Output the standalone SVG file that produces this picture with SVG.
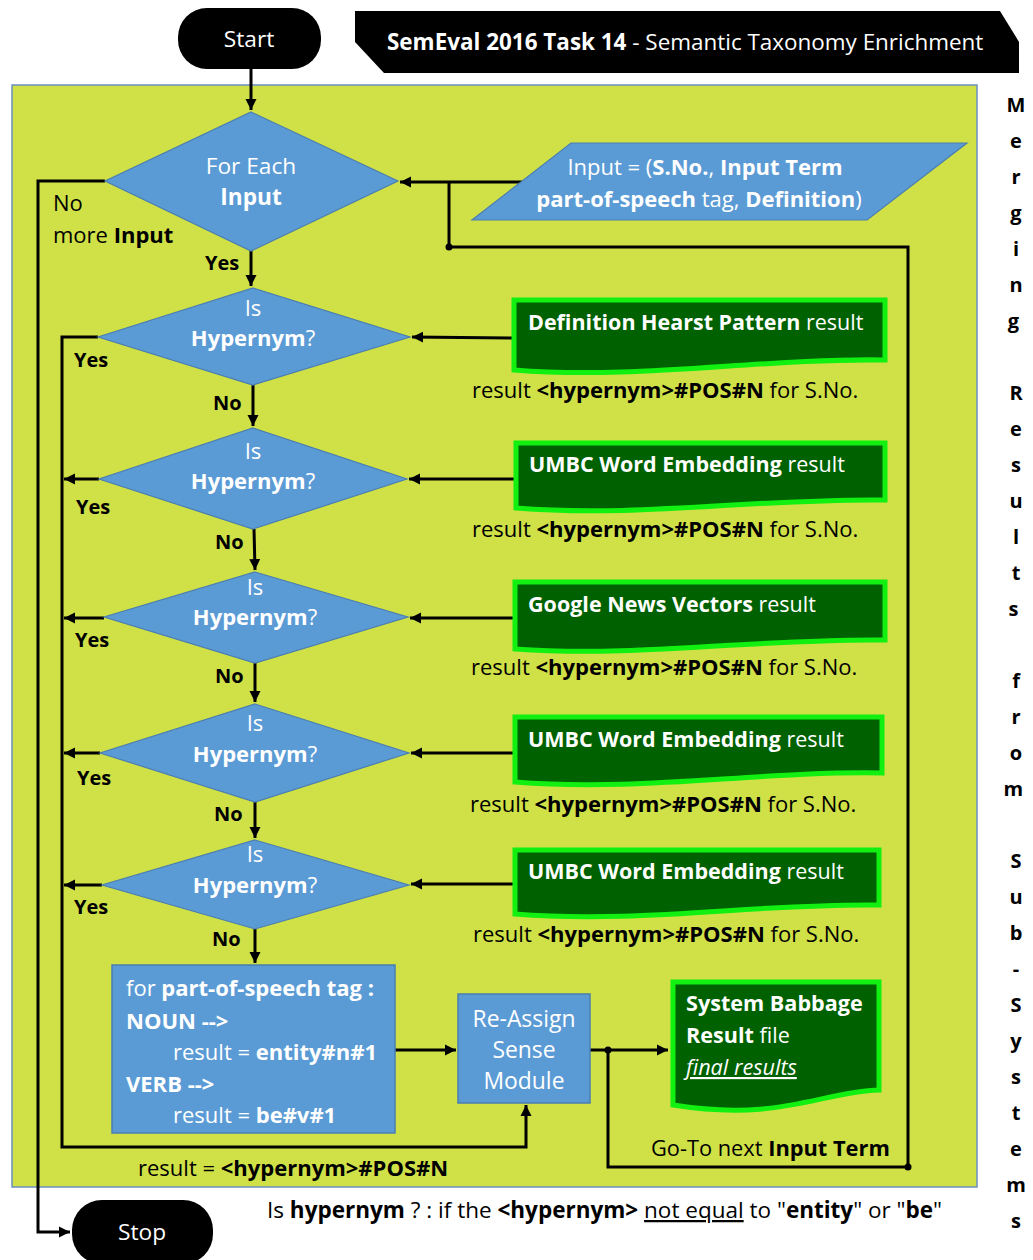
<svg xmlns="http://www.w3.org/2000/svg" width="1033" height="1260" viewBox="0 0 1033 1260" font-size="22">
  <defs>
    <marker id="arrow" markerUnits="userSpaceOnUse" markerWidth="12" markerHeight="12" refX="11" refY="6" orient="auto">
      <path d="M0,0.5 L11,6 L0,11.5 Z" fill="#000"/>
    </marker>
    <style>
      text { font-family: "Open Sans", Lato, "Liberation Sans", sans-serif; }
      .b { font-weight: 700; }
      .w { fill: #fff; }
      .k { fill: #000; }
      .t20 { font-size: 20px; }
      .t23 { font-size: 22.7px; }
      .dt { font-size: 21.5px; }
      .mid { text-anchor: middle; }
      .diamond { fill: #5B9BD5; stroke: #4A7EB0; stroke-width: 1.2; }
      .box { fill: #5B9BD5; stroke: #4A7EB0; stroke-width: 1.5; }
      .doc { fill: #006100; stroke: #11F011; stroke-width: 5; stroke-linejoin: miter; }
      .term { fill: #000; }
      .conn { fill: none; stroke: #000; stroke-width: 3; }
      .arr { marker-end: url(#arrow); }
    </style>
  </defs>

  <!-- title banner -->
  <g id="title">
    <path d="M355,11 H1000 L1019,42 V73 H384 L355,42 Z" fill="#000"/>
    <text x="387" y="50" class="w" font-size="22.45"><tspan class="b">SemEval 2016 Task 14</tspan> - Semantic Taxonomy Enrichment</text>
  </g>

  <!-- process panel -->
  <rect id="panel" x="12" y="85" width="965" height="1102" fill="#CFE147" stroke="#6B8FBF" stroke-width="1.5"/>

  <!-- side caption -->
  <text id="side-caption" class="b k t20 mid">
    <tspan x="1016" y="112">M</tspan><tspan x="1016" y="148">e</tspan><tspan x="1016" y="184">r</tspan><tspan x="1016" y="220">g</tspan><tspan x="1016" y="256">i</tspan><tspan x="1016" y="292">n</tspan><tspan x="1016" y="328">g</tspan>
    <tspan x="1016" y="400">R</tspan><tspan x="1016" y="436">e</tspan><tspan x="1016" y="472">s</tspan><tspan x="1016" y="508">u</tspan><tspan x="1016" y="544">l</tspan><tspan x="1016" y="580">t</tspan><tspan x="1016" y="616">s</tspan>
    <tspan x="1016" y="688">f</tspan><tspan x="1016" y="724">r</tspan><tspan x="1016" y="760">o</tspan><tspan x="1016" y="796">m</tspan>
    <tspan x="1016" y="868">S</tspan><tspan x="1016" y="904">u</tspan><tspan x="1016" y="940">b</tspan><tspan x="1016" y="976">-</tspan><tspan x="1016" y="1012">S</tspan><tspan x="1016" y="1048">y</tspan><tspan x="1016" y="1084">s</tspan><tspan x="1016" y="1120">t</tspan><tspan x="1016" y="1156">e</tspan><tspan x="1016" y="1192">m</tspan><tspan x="1016" y="1228">s</tspan>
  </text>

  <!-- connectors -->
  <g id="connectors">
    <path class="conn arr" d="M251,69 V110"/>
    <path class="conn arr" d="M522,182 H400"/>
    <path class="conn" d="M908,1167 V247 H449 V182"/>
    <path class="conn arr" d="M251,251 V286"/>
    <path class="conn arr" d="M105,181 H38 V1232 H70"/>
    <path class="conn arr" d="M98,337 H62 V1147 H526 V1105"/>
    <path class="conn arr" d="M99,479 H64"/>
    <path class="conn arr" d="M104,618 H64"/>
    <path class="conn arr" d="M100,753 H64"/>
    <path class="conn arr" d="M102,885 H64"/>
    <path class="conn arr" d="M253,385 V426"/>
    <path class="conn arr" d="M254,529 L255,570"/>
    <path class="conn arr" d="M255,663 V702"/>
    <path class="conn arr" d="M255,802 V838"/>
    <path class="conn arr" d="M255,929 V963"/>
    <path class="conn arr" d="M513,338 L412,337"/>
    <path class="conn arr" d="M515,479 H409"/>
    <path class="conn arr" d="M515,618 H410"/>
    <path class="conn arr" d="M514,753 H411"/>
    <path class="conn arr" d="M514,884 H411"/>
    <path class="conn arr" d="M395,1050 H456"/>
    <path class="conn arr" d="M590,1050 H668"/>
    <path class="conn" d="M608,1050 V1167 H908"/>
    <circle cx="449" cy="247" r="3.5" fill="#000"/>
    <circle cx="908" cy="1167" r="3.5" fill="#000"/>
    <circle cx="608" cy="1050" r="3.5" fill="#000"/>
  </g>

  <!-- connector labels -->
  <g id="labels" class="b k t20">
    <text x="53" y="211" font-weight="400" font-size="22">No</text>
    <text x="53" y="243" font-size="22"><tspan font-weight="400">more </tspan>Input</text>
    <text x="205" y="270">Yes</text>
    <text x="74" y="367">Yes</text>
    <text x="213" y="410">No</text>
    <text x="76" y="514">Yes</text>
    <text x="215" y="549">No</text>
    <text x="75" y="647">Yes</text>
    <text x="215" y="683">No</text>
    <text x="77" y="785">Yes</text>
    <text x="214" y="821">No</text>
    <text x="74" y="914">Yes</text>
    <text x="212" y="946">No</text>
  </g>

  <!-- terminators -->
  <g id="start">
    <rect class="term" x="178" y="8" width="143" height="61" rx="29"/>
    <text x="249" y="47" class="w t23 mid">Start</text>
  </g>
  <g id="stop">
    <rect class="term" x="72" y="1200" width="141" height="64" rx="30"/>
    <text x="142" y="1240" class="w t23 mid">Stop</text>
  </g>

  <!-- loop over inputs -->
  <g id="for-each">
    <polygon class="diamond" points="251,112 398,181 251,251 105,181"/>
    <text x="251" y="174" class="w t23 mid">For Each</text>
    <text x="251" y="205" class="w t23 mid b">Input</text>
  </g>

  <g id="input">
    <polygon class="diamond" points="571,143 967,143 867,220 472,220"/>
    <text x="705" y="175" class="w mid">Input = (<tspan class="b">S.No.</tspan>, <tspan class="b">Input Term</tspan></text>
    <text x="699" y="207" class="w mid"><tspan class="b">part-of-speech</tspan> tag, <tspan class="b">Definition</tspan>)</text>
  </g>

  <!-- hypernym checks -->
  <g id="check-1">
    <polygon class="diamond" points="253,288 410,337 253,385 98,337"/>
    <text x="253" y="316" class="w mid">Is</text>
    <text x="253" y="346" class="w mid"><tspan class="b">Hypernym</tspan>?</text>
  </g>
  <g id="check-2">
    <polygon class="diamond" points="253,428 407,479 253,529 99,479"/>
    <text x="253" y="459" class="w mid">Is</text>
    <text x="253" y="489" class="w mid"><tspan class="b">Hypernym</tspan>?</text>
  </g>
  <g id="check-3">
    <polygon class="diamond" points="255,572 408,617 255,663 104,617"/>
    <text x="255" y="595" class="w mid">Is</text>
    <text x="255" y="625" class="w mid"><tspan class="b">Hypernym</tspan>?</text>
  </g>
  <g id="check-4">
    <polygon class="diamond" points="255,704 409,753 255,802 100,753"/>
    <text x="255" y="731" class="w mid">Is</text>
    <text x="255" y="762" class="w mid"><tspan class="b">Hypernym</tspan>?</text>
  </g>
  <g id="check-5">
    <polygon class="diamond" points="255,840 409,885 255,929 102,885"/>
    <text x="255" y="862" class="w mid">Is</text>
    <text x="255" y="893" class="w mid"><tspan class="b">Hypernym</tspan>?</text>
  </g>

  <!-- sub-system result documents -->
  <g id="doc-hearst">
    <path class="doc" d="M514,300 H885 V360 C760,358 640,380 514,370 Z"/>
    <text x="528" y="330" class="w dt"><tspan class="b">Definition Hearst Pattern</tspan> result</text>
    <text x="472" y="398" class="k">result <tspan class="b">&lt;hypernym&gt;#POS#N</tspan> for S.No.</text>
  </g>
  <g id="doc-umbc-1">
    <path class="doc" d="M516,443 H885 V500 C760,498 640,518 516,508 Z"/>
    <text x="529" y="472" class="w dt"><tspan class="b">UMBC Word Embedding</tspan> result</text>
    <text x="472" y="537" class="k">result <tspan class="b">&lt;hypernym&gt;#POS#N</tspan> for S.No.</text>
  </g>
  <g id="doc-google">
    <path class="doc" d="M515,582 H885 V640 C760,638 640,658 515,649 Z"/>
    <text x="528" y="612" class="w dt"><tspan class="b">Google News Vectors</tspan> result</text>
    <text x="471" y="675" class="k">result <tspan class="b">&lt;hypernym&gt;#POS#N</tspan> for S.No.</text>
  </g>
  <g id="doc-umbc-2">
    <path class="doc" d="M515,717 H882 V773 C760,771 640,792 515,782 Z"/>
    <text x="528" y="747" class="w dt"><tspan class="b">UMBC Word Embedding</tspan> result</text>
    <text x="470" y="812" class="k">result <tspan class="b">&lt;hypernym&gt;#POS#N</tspan> for S.No.</text>
  </g>
  <g id="doc-umbc-3">
    <path class="doc" d="M515,850 H879 V905 C760,903 640,924 515,914 Z"/>
    <text x="528" y="879" class="w dt"><tspan class="b">UMBC Word Embedding</tspan> result</text>
    <text x="473" y="942" class="k">result <tspan class="b">&lt;hypernym&gt;#POS#N</tspan> for S.No.</text>
  </g>

  <!-- default sense by part of speech -->
  <g id="pos-default">
    <rect class="box" x="112" y="965" width="283" height="168"/>
    <text x="126" y="996" class="w">for <tspan class="b">part-of-speech tag :</tspan></text>
    <text x="126" y="1029" class="w b">NOUN --&gt;</text>
    <text x="173" y="1060" class="w">result = <tspan class="b">entity#n#1</tspan></text>
    <text x="126" y="1092" class="w b">VERB --&gt;</text>
    <text x="173" y="1123" class="w">result = <tspan class="b">be#v#1</tspan></text>
  </g>

  <g id="reassign">
    <rect class="box" x="458" y="994" width="132" height="109"/>
    <text x="524" y="1027" class="w mid" font-size="22.9">Re-Assign</text>
    <text x="524" y="1058" class="w mid" font-size="22.9">Sense</text>
    <text x="524" y="1089" class="w mid" font-size="22.9">Module</text>
  </g>

  <g id="result-file">
    <path class="doc" d="M673,982 H879 V1090 C820,1092 780,1122 673,1105 Z"/>
    <text x="686" y="1011" class="w b" font-size="21.6">System Babbage</text>
    <text x="686" y="1043" class="w" font-size="21.6"><tspan class="b">Result</tspan> file</text>
    <text x="686" y="1075" class="w" font-size="21.6" font-style="italic" text-decoration="underline">final results</text>
  </g>

  <!-- notes -->
  <text id="next-term" x="651" y="1156" class="k" font-size="21.8">Go-To next <tspan class="b">Input Term</tspan></text>
  <text id="result-note" x="138" y="1176" class="k">result = <tspan class="b">&lt;hypernym&gt;#POS#N</tspan></text>
  <text id="legend" x="267" y="1218" class="k" font-size="22.5">Is <tspan class="b">hypernym</tspan> ? : if the <tspan class="b">&lt;hypernym&gt;</tspan> <tspan text-decoration="underline">not equal</tspan> to "<tspan class="b">entity</tspan>" or "<tspan class="b">be</tspan>"</text>
</svg>
